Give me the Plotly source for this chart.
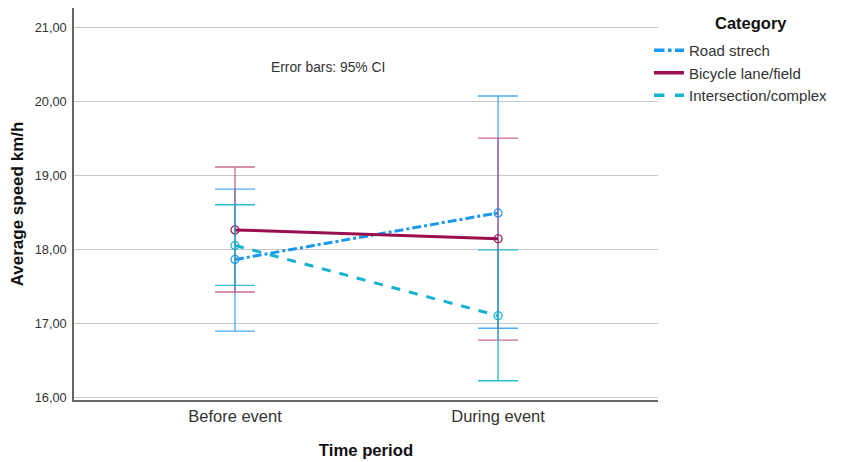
import plotly.graph_objects as go

periods = ["Before event", "During event"]
categories = ["Road strech", "Bicycle lane/field", "Intersection/complex"]

road_mean = [17.86, 18.49]
road_lo = [16.89, 16.93]
road_hi = [18.81, 20.07]

bike_mean = [18.26, 18.14]
bike_lo = [17.42, 16.77]
bike_hi = [19.11, 19.50]

inter_mean = [18.05, 17.10]
inter_lo = [17.51, 16.22]
inter_hi = [18.60, 17.99]

y_ticks = [16, 17, 18, 19, 20, 21]
y_tick_labels = ["16,00", "17,00", "18,00", "19,00", "20,00", "21,00"]

series = [
    (categories[0], road_mean, road_lo, road_hi, "#1a98f0", "dashdot", "rgba(40,160,245,0.85)"),
    (categories[1], bike_mean, bike_lo, bike_hi, "#9a0f4f", "solid", "rgba(180,60,110,0.75)"),
    (categories[2], inter_mean, inter_lo, inter_hi, "#14b4d0", "dash", "rgba(20,180,208,0.9)"),
]

fig = go.Figure()
for name, m, lo, hi, color, dash, ecolor in series:
    fig.add_trace(go.Scatter(
        x=periods, y=m, name=name, mode="lines+markers", showlegend=False,
        line=dict(color=color, width=3, dash=dash),
        marker=dict(symbol="circle-open", size=8, color=color, line=dict(width=1.2)),
        error_y=dict(type="data", symmetric=False,
                     array=[h - v for h, v in zip(hi, m)],
                     arrayminus=[v - l for v, l in zip(m, lo)],
                     color=ecolor, thickness=1.3, width=20),
    ))
for name, m, lo, hi, color, dash, ecolor in series:
    fig.add_trace(go.Scatter(
        x=[None], y=[None], name=name, mode="lines",
        line=dict(color=color, width=3.5, dash=dash),
    ))

font = "Liberation Sans, Arial, sans-serif"
W, H = 833, 454  # page body adds an 8px margin
fig.update_layout(
    width=W, height=H,
    margin=dict(l=66, r=183, t=0, b=62, autoexpand=False),
    plot_bgcolor="white", paper_bgcolor="white",
    font=dict(family=font, color="#222"),
    showlegend=True,
    legend=dict(
        x=(641 - 66) / 584, xanchor="left", y=1 - 26 / 392, yanchor="top",
        font=dict(size=15, color="#333"),
        itemwidth=30, tracegroupgap=0, bgcolor="rgba(0,0,0,0)",
    ),
    xaxis=dict(
        type="category", range=[-0.612, 1.608], automargin=False,
        showgrid=False, showline=True, linecolor="#666", linewidth=1.5,
        ticks="", tickfont=dict(size=16.5, color="#333"),
        title=dict(text="<b>Time period</b>", font=dict(size=16.7, color="#111"), standoff=21),
    ),
    yaxis=dict(
        range=[15.96, 21.26], tickvals=y_ticks, ticktext=y_tick_labels, automargin=False,
        showgrid=True, gridcolor="#c8c8c8", gridwidth=1,
        showline=True, linecolor="#666", linewidth=1.5, zeroline=False,
        ticks="outside", ticklen=3, tickcolor="rgba(0,0,0,0)",
        tickfont=dict(size=12.8, color="#333"),
        title=dict(text="<b>Average speed km/h</b>", font=dict(size=17, color="#111"), standoff=8),
    ),
    annotations=[
        dict(text="Error bars: 95% CI", x=(320 - 66) / 584, y=20.46, xref="paper", yref="y",
             showarrow=False, font=dict(size=13.8, color="#333")),
        dict(text="<b>Category</b>", x=(743 - 66) / 584, y=1 - 15 / 392, xref="paper", yref="paper",
             showarrow=False, xanchor="center", yanchor="middle",
             font=dict(size=16.5, color="#111")),
    ],
)

fig.write_html("out.html")
